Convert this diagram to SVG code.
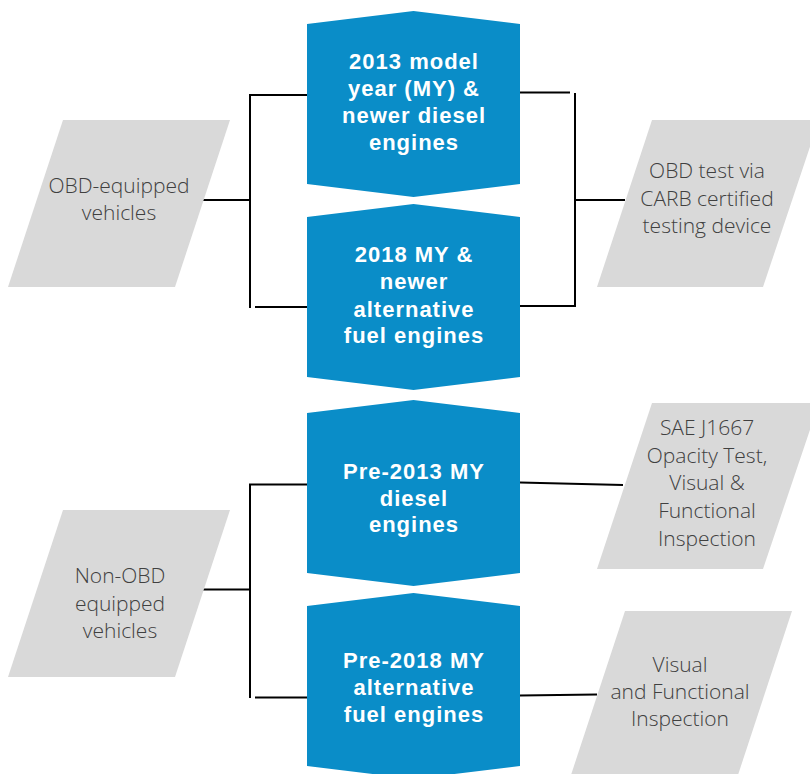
<svg xmlns="http://www.w3.org/2000/svg" width="810" height="774" viewBox="0 0 810 774">
<style>
.blue{fill:#0a8dc8}
.gray{fill:#d9d9d9}
.bt{font-family:"Liberation Sans",Arial,sans-serif;font-weight:bold;font-size:22px;letter-spacing:1px;fill:#ffffff;text-anchor:middle}
.gt{font-family:"Open Sans","Noto Sans",sans-serif;font-weight:300;font-size:21px;fill:#404040;text-anchor:middle}
.ln{stroke:#000;stroke-width:2;fill:none}
</style>
<rect width="810" height="774" fill="#ffffff"/>
<g id="connectors">
<path class="ln" d="M307,95 H250 V308"/>
<path class="ln" d="M255,307 H307"/>
<path class="ln" d="M203,200 H250"/>
<path class="ln" d="M520,92.5 H570"/>
<path class="ln" d="M575,93 V306 H520"/>
<path class="ln" d="M575,200 H625"/>
<path class="ln" d="M307,484.5 H250 V698"/>
<path class="ln" d="M255,697.5 H307"/>
<path class="ln" d="M203,589.5 H250"/>
<path class="ln" d="M520,482.5 L623,485"/>
<path class="ln" d="M520,695.5 L597,694.5"/>
</g>
<g id="obd-equipped">
<polygon class="gray" points="63,120 230,120 175,287 8,287"/>
<text class="gt" x="119" y="193">OBD-equipped</text>
<text class="gt" x="119" y="220">vehicles</text>
</g>
<g id="non-obd">
<polygon class="gray" points="63,510 230,510 175,677 8,677"/>
<text class="gt" x="120" y="583">Non-OBD</text>
<text class="gt" x="120" y="610.5">equipped</text>
<text class="gt" x="120" y="638">vehicles</text>
</g>
<g id="diesel-2013">
<polygon class="blue" points="307,24 413.5,11 520,24 520,184 413.5,197 307,184"/>
<text class="bt" x="414" y="69">2013 model</text>
<text class="bt" x="414" y="96">year (MY) &amp;</text>
<text class="bt" x="414" y="123">newer diesel</text>
<text class="bt" x="414" y="150">engines</text>
</g>
<g id="alt-2018">
<polygon class="blue" points="307,217 413.5,204 520,217 520,377 413.5,390 307,377"/>
<text class="bt" x="414" y="262">2018 MY &amp;</text>
<text class="bt" x="414" y="289">newer</text>
<text class="bt" x="414" y="316.5">alternative</text>
<text class="bt" x="414" y="343">fuel engines</text>
</g>
<g id="pre-2013">
<polygon class="blue" points="307,413 413.5,400 520,413 520,573 413.5,586 307,573"/>
<text class="bt" x="414" y="479">Pre-2013 MY</text>
<text class="bt" x="414" y="506">diesel</text>
<text class="bt" x="414" y="532">engines</text>
</g>
<g id="pre-2018">
<polygon class="blue" points="307,606 413.5,593 520,606 520,766 413.5,779 307,766"/>
<text class="bt" x="414" y="668">Pre-2018 MY</text>
<text class="bt" x="414" y="695">alternative</text>
<text class="bt" x="414" y="722">fuel engines</text>
</g>
<g id="obd-test">
<polygon class="gray" points="652,120 819,120 763,287 597,287"/>
<text class="gt" x="707" y="178">OBD test via</text>
<text class="gt" x="707" y="206">CARB certified</text>
<text class="gt" x="707" y="233">testing device</text>
</g>
<g id="opacity-test">
<polygon class="gray" points="652,403 819,403 763,569 597,569"/>
<text class="gt" x="707" y="435">SAE J1667</text>
<text class="gt" x="707" y="463">Opacity Test,</text>
<text class="gt" x="707" y="490">Visual &amp;</text>
<text class="gt" x="707" y="518">Functional</text>
<text class="gt" x="707" y="546">Inspection</text>
</g>
<g id="visual-inspection">
<polygon class="gray" points="625,611 792,611 737,778 570,778"/>
<text class="gt" x="680" y="671.5">Visual</text>
<text class="gt" x="680" y="699">and Functional</text>
<text class="gt" x="680" y="726">Inspection</text>
</g>
</svg>
